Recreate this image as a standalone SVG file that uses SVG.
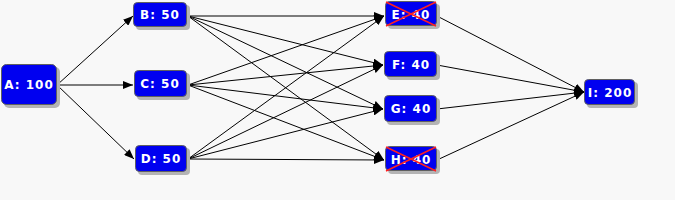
<svg xmlns="http://www.w3.org/2000/svg" width="675" height="200" viewBox="0 0 675 200">
<style>
.sh{fill:#b4b4b4}
.bx{fill:#0000f0;stroke:#606060;stroke-width:1}
.lb{fill:#ffffff;font-family:"DejaVu Sans",sans-serif;font-weight:bold;font-size:12px;letter-spacing:1px;text-anchor:middle}
.ed{stroke:#000;stroke-width:1;fill:none;marker-end:url(#ah)}
.x{stroke:#ff2020;stroke-width:1.5}
</style>
<defs>
<marker id="ah" viewBox="0 0 10 8" refX="10" refY="4" markerWidth="10" markerHeight="8" markerUnits="userSpaceOnUse" orient="auto">
<path d="M0,0 L10,4 L0,8 Z" fill="#000"/>
</marker>
</defs>
<rect width="675" height="200" fill="#f8f8f8"/>
<g id="connectors">
<line class="ed" x1="57" y1="85" x2="133" y2="16"/>
<line class="ed" x1="57" y1="85" x2="133" y2="85"/>
<line class="ed" x1="57" y1="85" x2="134" y2="159"/>
<line class="ed" x1="188" y1="16" x2="384" y2="16"/>
<line class="ed" x1="188" y1="16" x2="383" y2="65"/>
<line class="ed" x1="188" y1="16" x2="383" y2="109"/>
<line class="ed" x1="188" y1="16" x2="384" y2="160"/>
<line class="ed" x1="188" y1="85" x2="384" y2="16"/>
<line class="ed" x1="188" y1="85" x2="383" y2="65"/>
<line class="ed" x1="188" y1="85" x2="383" y2="109"/>
<line class="ed" x1="188" y1="85" x2="384" y2="160"/>
<line class="ed" x1="188" y1="159" x2="384" y2="16"/>
<line class="ed" x1="188" y1="159" x2="383" y2="65"/>
<line class="ed" x1="188" y1="159" x2="383" y2="109"/>
<line class="ed" x1="188" y1="159" x2="384" y2="160"/>
<line class="ed" x1="437" y1="16" x2="584" y2="92"/>
<line class="ed" x1="437" y1="65" x2="584" y2="92"/>
<line class="ed" x1="437" y1="109" x2="584" y2="92"/>
<line class="ed" x1="437" y1="160" x2="584" y2="92"/>
</g>
<g id="A">
<rect class="sh" x="4" y="67" width="56" height="41" rx="5"/>
<rect class="bx" x="1.5" y="64.5" width="55" height="40" rx="5"/>
<text class="lb" x="29" y="89">A: 100</text>
</g>
<g id="B">
<rect class="sh" x="136" y="5" width="54" height="25" rx="4"/>
<rect class="bx" x="133.5" y="2.5" width="53" height="24" rx="4"/>
<text class="lb" x="160" y="19">B: 50</text>
</g>
<g id="C">
<rect class="sh" x="137" y="73" width="53" height="27" rx="4"/>
<rect class="bx" x="134.5" y="70.5" width="52" height="26" rx="4"/>
<text class="lb" x="160" y="88">C: 50</text>
</g>
<g id="D">
<rect class="sh" x="138" y="148" width="52" height="27" rx="4"/>
<rect class="bx" x="135.5" y="145.5" width="51" height="26" rx="4"/>
<text class="lb" x="161" y="163">D: 50</text>
</g>
<g id="E">
<rect class="sh" x="388" y="4" width="52" height="25" rx="4"/>
<rect class="bx" x="385.5" y="1.5" width="51" height="24" rx="4"/>
<text class="lb" x="411" y="19">E: 40</text>
<line class="x" x1="386" y1="2" x2="436" y2="26"/>
<line class="x" x1="436" y1="2" x2="386" y2="26"/>
</g>
<g id="F">
<rect class="sh" x="387" y="54" width="53" height="26" rx="4"/>
<rect class="bx" x="384.5" y="51.5" width="52" height="25" rx="4"/>
<text class="lb" x="411" y="69">F: 40</text>
</g>
<g id="G">
<rect class="sh" x="387" y="98" width="53" height="27" rx="4"/>
<rect class="bx" x="384.5" y="95.5" width="52" height="26" rx="4"/>
<text class="lb" x="411" y="113">G: 40</text>
</g>
<g id="H">
<rect class="sh" x="388" y="149" width="52" height="25" rx="4"/>
<rect class="bx" x="385.5" y="146.5" width="51" height="24" rx="4"/>
<text class="lb" x="411" y="164">H: 40</text>
<line class="x" x1="386" y1="147" x2="436" y2="171"/>
<line class="x" x1="436" y1="147" x2="386" y2="171"/>
</g>
<g id="I">
<rect class="sh" x="587" y="82" width="51" height="26" rx="4"/>
<rect class="bx" x="584.5" y="79.5" width="50" height="25" rx="4"/>
<text class="lb" x="610" y="97">I: 200</text>
</g>
</svg>
